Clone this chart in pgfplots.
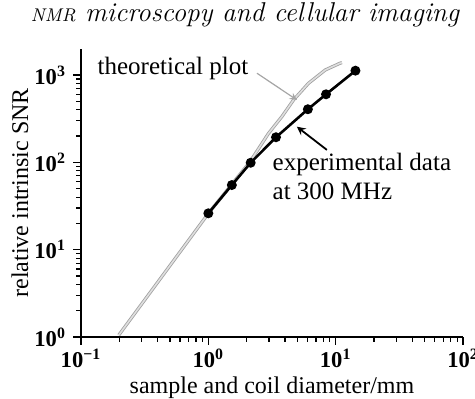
\documentclass[border=0pt]{standalone}
\usepackage{fontspec}
\setmainfont{Liberation Serif}
\newfontfamily\lmfont{Latin Modern Roman}
\usepackage{pgfplots}
\pgfplotsset{compat=1.18}
\pgfplotstableread{
x y
1.0 26.1
1.53 55
2.15 99
3.4 194
6.05 406
8.4 602
14.3 1123
}\expdata
\pgfplotstableread{
x y
0.198 1.05
1.0 26
2.13 102
2.97 215
3.78 334
4.67 519
6.12 805
8.28 1143
10.8 1365
11.2 1387
}\theodata
\begin{document}
\begin{tikzpicture}
\useasboundingbox (-40.5pt,-31pt) rectangle (197pt,168.5pt);
\begin{axis}[
  at={(0,0)}, anchor=south west,
  scale only axis, width=191pt, height=144.1pt,
  xmode=log, ymode=log,
  xmin=0.1, xmax=100, ymin=1, ymax=2000,
  axis x line=bottom, axis y line=left,
  axis line style={-, line width=0.6pt},
  tick align=outside,
  major tick length=4pt, minor tick length=2.3pt,
  tick style={draw=black, line width=0.6pt},
  xtick={0.1,1,10,100},
  xticklabels={10\textsuperscript{−1},10\textsuperscript{0},10\textsuperscript{1},10\textsuperscript{2}},
  ytick={1,10,100,1000},
  yticklabels={10\textsuperscript{0},10\textsuperscript{1},10\textsuperscript{2},10\textsuperscript{3}},
  ticklabel style={font=\fontsize{11.3}{13}\selectfont\bfseries},
  xticklabel style={yshift=1.5pt},
  xlabel={sample and coil diameter/mm},
  ylabel={relative intrinsic SNR},
  label style={font=\fontsize{12}{14}\selectfont},
  xlabel style={at={(axis description cs:0.5,-0.176)}, anchor=center},
  ylabel style={at={(axis description cs:-0.16,0.5)}, anchor=center},
  clip=false,
]
\addplot[draw=gray!75, double=gray!25, line width=0.4pt, double distance=0.8pt] table[x=x,y=y] {\theodata};
\addplot[black, line width=1.3pt, mark=*, mark size=1.8pt] table[x=x,y=y] {\expdata};
\draw[gray!70, line width=0.6pt, -stealth] (axis cs:2.41,1049) -- (axis cs:4.96,519);
\draw[black, line width=0.9pt, -stealth] (axis cs:8.53,139) -- (axis cs:4.96,256);
\node[font=\fontsize{12.5}{14}\selectfont, anchor=east] at (axis cs:2.34,1205) {theoretical plot};
\node[font=\fontsize{12.5}{14.5}\selectfont, anchor=west, align=left, inner sep=0pt] at (axis cs:3.18,69.9) {experimental data\\at 300 MHz};
\end{axis}
\node[font=\lmfont\itshape\fontsize{13.6}{15}\selectfont] at (82pt,161pt) {{\fontsize{9.2}{10}\selectfont NMR} microscopy and cellular imaging};
\end{tikzpicture}
\end{document}
